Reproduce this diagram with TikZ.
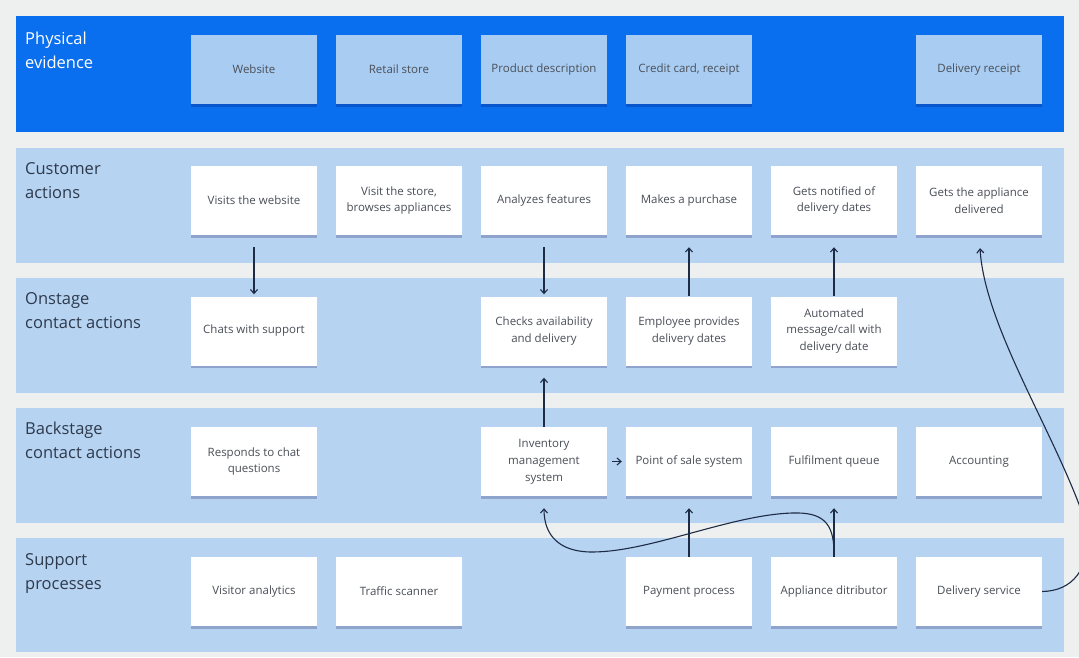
\documentclass[tikz,border=0pt]{standalone}
\usepackage{fontspec}
\setmainfont{Open Sans}
\usetikzlibrary{shadows,arrows.meta,calc}
\definecolor{bgcol}{HTML}{EEF0EF}
\definecolor{physlane}{HTML}{0A6FEF}
\definecolor{physcard}{HTML}{A9CCF2}
\definecolor{lanecol}{HTML}{B6D3F2}
\definecolor{cardtext}{HTML}{4A4F57}
\definecolor{labeltext}{HTML}{2E3A4C}
\definecolor{linecol}{HTML}{1E2B45}
\tikzset{
  card/.style={rectangle, fill=white, minimum width=126pt, minimum height=69pt, inner sep=2pt,
    align=center, text=cardtext, font=\fontsize{11.5}{16.8}\selectfont,
    drop shadow={shadow xshift=0pt, shadow yshift=-2.5pt, fill=black!70!blue, opacity=0.22}},
  physcardst/.style={card, fill=physcard},
  lanelabel/.style={anchor=north west, align=left, inner sep=0pt, text=labeltext,
    font=\fontsize{16.5}{24}\selectfont},
  conn/.style={draw=linecol, line width=1.1pt, -{Straight Barb[length=4pt,width=7pt]}},
}
\begin{document}
\begin{tikzpicture}[x=1pt,y=-1pt]
\useasboundingbox (0,0) rectangle (1079,657);
\clip (0,0) rectangle (1079,657);
\fill[bgcol] (0,0) rectangle (1079,657);
% lanes
\fill[physlane] (16,16) rectangle (1064,132);
\fill[lanecol] (16,148) rectangle (1064,263);
\fill[lanecol] (16,278) rectangle (1064,393);
\fill[lanecol] (16,408) rectangle (1064,523);
\fill[lanecol] (16,538) rectangle (1064,652);
% lane labels
\node[lanelabel, text=white] (lbphys) at (25,32) {Physical\\evidence};
\node[lanelabel] (lbcust) at (25,162) {Customer\\actions};
\node[lanelabel] (lbon) at (25,292) {Onstage\\contact actions};
\node[lanelabel] (lbback) at (25,422) {Backstage\\contact actions};
\node[lanelabel] (lbsup) at (25,553) {Support\\processes};
% physical evidence
\node[physcardst] (pweb) at (254,69.5) {Website};
\node[physcardst] (pstore) at (399,69.5) {Retail store};
\node[physcardst] (pdesc) at (544,69.5) {Product description};
\node[physcardst] (pcard) at (689,69.5) {Credit card, receipt};
\node[physcardst] (prec) at (979,69.5) {Delivery receipt};
% customer actions
\node[card] (cvisit) at (254,200.5) {Visits the website};
\node[card] (cstore) at (399,200.5) {Visit the store,\\browses appliances};
\node[card] (cfeat) at (544,200.5) {Analyzes features};
\node[card] (cbuy) at (689,200.5) {Makes a purchase};
\node[card] (cnotif) at (834,200.5) {Gets notified of\\delivery dates};
\node[card] (cdeliv) at (979,200.5) {Gets the appliance\\delivered};
% onstage
\node[card] (ochat) at (254,331) {Chats with support};
\node[card] (ocheck) at (544,331) {Checks availability\\and delivery};
\node[card] (oemp) at (689,331) {Employee provides\\delivery dates};
\node[card] (oauto) at (834,331) {Automated\\message/call with\\delivery date};
% backstage
\node[card] (bresp) at (254,461.5) {Responds to chat\\questions};
\node[card] (binv) at (544,461.5) {Inventory\\management\\system};
\node[card] (bpos) at (689,461.5) {Point of sale system};
\node[card] (bful) at (834,461.5) {Fulfilment queue};
\node[card] (bacc) at (979,461.5) {Accounting};
% support
\node[card] (svis) at (254,591.5) {Visitor analytics};
\node[card] (straf) at (399,591.5) {Traffic scanner};
\node[card] (spay) at (689,591.5) {Payment process};
\node[card] (sapp) at (834,591.5) {Appliance ditributor};
\node[card] (sdel) at (979,591.5) {Delivery service};
% connectors
\draw[conn, shorten <=12pt, shorten >=2pt] (cvisit.south) -- (ochat.north);
\draw[conn, shorten <=12pt, shorten >=2pt] (cfeat.south) -- (ocheck.north);
\draw[conn, shorten >=12pt] (oemp.north) -- (cbuy.south);
\draw[conn, shorten >=12pt] (oauto.north) -- (cnotif.south);
\draw[conn, shorten >=12pt] (binv.north) -- (ocheck.south);
\draw[conn, shorten <=5pt, shorten >=4pt] (binv.east) -- (bpos.west);
\draw[conn, shorten >=12pt] (spay.north) -- (bpos.south);
\draw[conn, shorten >=12pt] (sapp.north) -- (bful.south);
\coordinate (tipinv) at ($(binv.south)+(0,12)$);
\coordinate (tipdel) at ($(cdeliv.south)+(1,13)$);
\draw[conn] ($(sapp.north)+(0,-4)$) .. controls (834,522) and (822,512) .. (792,513)
  .. controls (730,515) and (650,552) .. (592,552)
  .. controls (560,552) and (544,536) .. (tipinv);
\draw[conn] (sdel.east) .. controls (1072,591) and (1090,570) .. (1088,530)
  .. controls (1060,440) and (985,330) .. (tipdel);
\end{tikzpicture}
\end{document}
